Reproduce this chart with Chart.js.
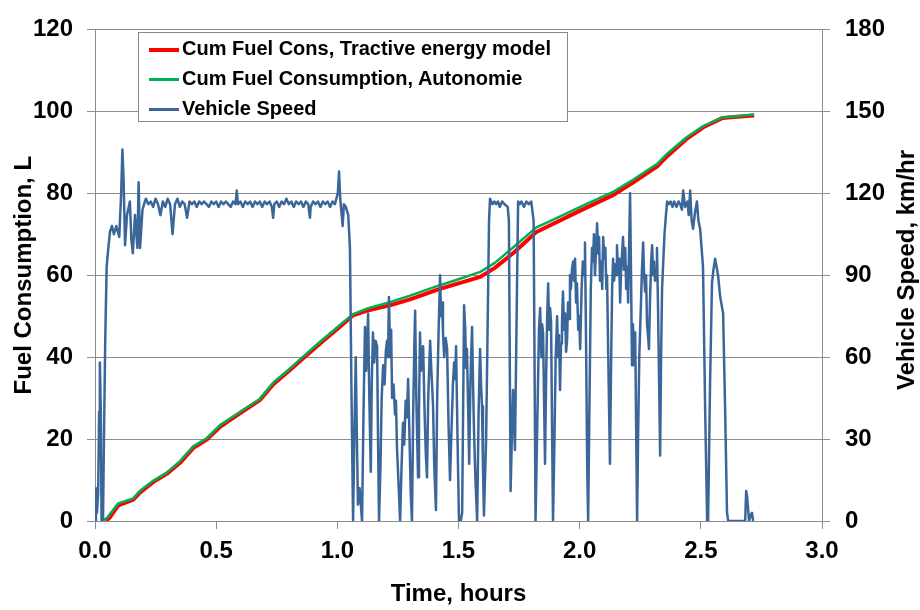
<!DOCTYPE html>
<html>
<head>
<meta charset="utf-8">
<script src="https://cdn.jsdelivr.net/npm/chart.js@4.4.1/dist/chart.umd.min.js"></script>
<style>
    body { margin: 0; background: #fff; font-family: "Liberation Sans", Arial, sans-serif; }
    #wrap { position: relative; width: 920px; height: 610px; }
    #legend {
        position: absolute; left: 138px; top: 32px; width: 430px; height: 90px;
        border: 1px solid #888; background: #fff; box-sizing: border-box;
    }
    .row { position: absolute; left: 10px; height: 30px; line-height: 30px; font-weight: bold; font-size: 20px; color: #000; white-space: nowrap; }
    .row span.swatch { display: inline-block; width: 30px; vertical-align: middle; margin-right: 3px; }
    #speedTitle {
        position: absolute; left: 906px; top: 270px; transform: translate(-50%, -50%) rotate(-90deg);
        font-weight: bold; font-size: 24px; white-space: nowrap; color: #000;
    }
</style>
</head>
<body>
<div id="wrap">
    <canvas id="fuelChart" width="920" height="610"></canvas>
    <div id="legend"></div>
    <div id="speedTitle">Vehicle Speed, km/hr</div>
</div>
<script>
// Cumulative fuel consumption, Autonomie (hours, litres)
const greenTime = [0.03, 0.05, 0.096, 0.158, 0.186, 0.24, 0.296, 0.351, 0.405, 0.461, 0.516, 0.598, 0.68, 0.736, 0.80, 0.86, 0.93, 1.00, 1.065, 1.12, 1.22, 1.30, 1.42, 1.50, 1.59, 1.65, 1.73, 1.82, 1.90, 2.00, 2.14, 2.22, 2.32, 2.36, 2.44, 2.51, 2.59, 2.65, 2.72];
const greenFuel = [0, 0.8, 4.3, 5.5, 7.4, 9.8, 11.8, 14.6, 18.2, 20.2, 23.4, 26.6, 29.8, 33.8, 37, 40.2, 43.8, 47.3, 50.5, 51.8, 53.5, 55, 57.5, 59, 60.8, 63, 67, 71.6, 73.8, 76.6, 80.4, 83.3, 87.2, 89.6, 93.6, 96.4, 98.5, 98.8, 99.2];

// Cumulative fuel consumption, tractive energy model
const redTime = [0.045, 0.06, 0.096, 0.158, 0.186, 0.24, 0.296, 0.351, 0.405, 0.461, 0.516, 0.598, 0.68, 0.736, 0.80, 0.86, 0.93, 1.00, 1.065, 1.12, 1.22, 1.30, 1.42, 1.50, 1.59, 1.65, 1.73, 1.82, 1.90, 2.00, 2.14, 2.22, 2.32, 2.36, 2.44, 2.51, 2.59, 2.65, 2.72];
const redFuel = [0, 0.8, 3.8, 5.2, 7.0, 9.5, 11.5, 14.2, 17.8, 19.9, 23.0, 26.3, 29.5, 33.4, 36.6, 39.8, 43.4, 46.9, 50.2, 51.3, 52.7, 54.1, 56.6, 58.0, 59.6, 61.8, 65.6, 70.5, 72.8, 75.7, 79.6, 82.6, 86.6, 89.0, 93.2, 96.1, 98.4, 98.7, 99.0];

const speedStart = [[0.000, 0], [0.004, 12], [0.008, 3], [0.013, 10], [0.017, 40], [0.020, 58], [0.024, 40], [0.027, 0], [0.033, 0], [0.037, 30],
    [0.042, 65], [0.048, 93], [0.055, 100], [0.062, 106], [0.070, 108], [0.078, 105], [0.088, 108], [0.100, 104], [0.108, 120], [0.113, 136],
    [0.118, 125], [0.124, 101], [0.132, 112], [0.144, 117], [0.150, 103], [0.156, 98], [0.165, 112], [0.175, 100], [0.180, 124], [0.186, 100],
    [0.196, 114], [0.206, 117]];
const speedCruise1 = [[0.21, 118], [0.22, 116], [0.23, 117], [0.24, 115], [0.25, 118], [0.26, 116], [0.27, 112], [0.28, 117], [0.29, 115],
    [0.30, 118], [0.31, 116], [0.32, 105], [0.33, 116], [0.34, 118], [0.35, 115], [0.36, 117], [0.37, 116], [0.38, 111], [0.39, 117], [0.40, 116],
    [0.41, 117], [0.42, 115], [0.43, 117], [0.44, 116], [0.45, 117], [0.46, 116], [0.47, 115], [0.48, 117], [0.49, 116], [0.50, 117], [0.51, 115],
    [0.52, 117], [0.53, 116], [0.54, 117], [0.55, 116], [0.56, 115], [0.57, 117], [0.58, 116], [0.585, 121], [0.59, 116], [0.60, 117], [0.61, 115],
    [0.62, 117], [0.63, 116], [0.64, 117], [0.65, 115], [0.66, 117], [0.67, 116], [0.68, 117], [0.69, 115], [0.70, 117], [0.71, 116], [0.72, 117],
    [0.73, 115], [0.735, 111], [0.74, 116], [0.75, 117], [0.76, 115], [0.77, 117], [0.78, 116], [0.79, 118], [0.80, 116], [0.81, 117], [0.82, 115],
    [0.83, 117], [0.84, 116], [0.85, 117], [0.86, 115], [0.87, 117], [0.88, 116], [0.887, 111], [0.89, 115], [0.90, 117], [0.91, 116], [0.92, 117],
    [0.93, 115], [0.94, 117], [0.95, 116], [0.96, 117], [0.97, 115], [0.98, 117], [0.99, 116], [1.002, 120], [1.007, 128], [1.012, 118],
    [1.018, 112], [1.022, 108], [1.027, 116], [1.035, 115], [1.045, 112], [1.052, 100], [1.058, 50], [1.065, 0]];
const speedCity1 = [[1.070, 30], [1.076, 60], [1.080, 35], [1.085, 6], [1.092, 12], [1.102, 0], [1.108, 40], [1.114, 71], [1.119, 55], [1.124, 68],
    [1.127, 76], [1.132, 45], [1.138, 18], [1.142, 50], [1.147, 69], [1.152, 58], [1.158, 66], [1.164, 64], [1.168, 30], [1.172, 0], [1.178, 20],
    [1.183, 45], [1.189, 57], [1.195, 50], [1.200, 62], [1.205, 66], [1.209, 60], [1.213, 82], [1.218, 60], [1.222, 70], [1.226, 45], [1.232, 50],
    [1.238, 39], [1.242, 44], [1.246, 27], [1.252, 15], [1.259, 0], [1.265, 20], [1.271, 36], [1.276, 28], [1.282, 44], [1.287, 38], [1.292, 52],
    [1.298, 30], [1.303, 10], [1.308, 0], [1.313, 40], [1.318, 65], [1.321, 77], [1.326, 45], [1.333, 16], [1.337, 40], [1.341, 69], [1.346, 55],
    [1.350, 62], [1.354, 64], [1.360, 40], [1.365, 25], [1.370, 16], [1.375, 45], [1.380, 58], [1.383, 66], [1.388, 55], [1.392, 48], [1.395, 42],
    [1.400, 20], [1.407, 4], [1.412, 45], [1.418, 70], [1.424, 90], [1.428, 75], [1.432, 80], [1.436, 69], [1.441, 60], [1.447, 67], [1.453, 63],
    [1.459, 35], [1.465, 15], [1.470, 30], [1.477, 50], [1.482, 58], [1.486, 52], [1.490, 64], [1.496, 30], [1.502, 0], [1.509, 0], [1.515, 3],
    [1.519, 40], [1.523, 79], [1.528, 70], [1.531, 56], [1.535, 63], [1.540, 40], [1.544, 21], [1.549, 50], [1.552, 60], [1.556, 71], [1.560, 50],
    [1.564, 33], [1.570, 15], [1.577, 0], [1.583, 40], [1.589, 63], [1.593, 50], [1.597, 42], [1.601, 20], [1.605, 2], [1.614, 30], [1.626, 110]];
const speedBursts = [[1.630, 118], [1.640, 116], [1.648, 117], [1.655, 116], [1.663, 117], [1.670, 115], [1.680, 117], [1.690, 116], [1.703, 115],
    [1.708, 110], [1.715, 11], [1.720, 30], [1.725, 48], [1.733, 26], [1.742, 90], [1.746, 117], [1.753, 116], [1.760, 117], [1.770, 115],
    [1.780, 117], [1.790, 116], [1.800, 117], [1.810, 110], [1.818, 0]];
const speedCity2 = [[1.826, 40], [1.832, 70], [1.837, 78], [1.842, 60], [1.845, 72], [1.849, 69], [1.853, 45], [1.857, 21], [1.862, 55], [1.866, 75],
    [1.870, 87], [1.874, 70], [1.878, 78], [1.882, 73], [1.886, 35], [1.890, 0], [1.896, 30], [1.901, 60], [1.907, 75], [1.911, 60], [1.915, 68],
    [1.919, 48], [1.923, 65], [1.927, 72], [1.931, 84], [1.936, 70], [1.940, 76], [1.944, 62], [1.948, 66], [1.952, 80], [1.956, 74], [1.960, 90],
    [1.964, 85], [1.968, 92], [1.973, 95], [1.977, 88], [1.981, 96], [1.985, 80], [1.989, 87], [1.994, 70], [1.998, 75], [2.002, 63], [2.008, 85],
    [2.013, 95], [2.018, 90], [2.022, 102], [2.027, 60], [2.031, 20], [2.035, 0], [2.040, 40], [2.046, 85], [2.051, 100], [2.055, 95], [2.059, 105],
    [2.063, 90], [2.068, 100], [2.072, 109], [2.076, 98], [2.080, 104], [2.084, 88], [2.088, 95], [2.093, 85], [2.097, 104], [2.102, 96],
    [2.106, 100], [2.110, 85], [2.113, 90], [2.118, 60], [2.125, 21], [2.130, 60], [2.134, 85], [2.138, 96], [2.142, 88], [2.146, 94], [2.150, 90],
    [2.154, 101], [2.158, 92], [2.163, 96], [2.167, 80], [2.171, 92], [2.175, 98], [2.179, 104], [2.183, 92], [2.188, 100], [2.192, 85],
    [2.196, 93], [2.200, 80], [2.204, 100], [2.208, 120], [2.212, 90], [2.216, 57], [2.220, 72], [2.225, 60], [2.229, 69], [2.233, 35], [2.237, 0],
    [2.241, 30], [2.246, 60], [2.253, 80], [2.257, 92], [2.262, 102], [2.266, 90], [2.270, 84], [2.274, 90], [2.278, 72], [2.282, 68], [2.286, 63],
    [2.290, 80], [2.295, 95], [2.299, 101], [2.303, 90], [2.307, 95], [2.311, 88], [2.315, 92], [2.319, 100], [2.323, 80], [2.328, 50], [2.332, 24],
    [2.336, 60], [2.340, 85], [2.344, 93], [2.350, 105], [2.356, 112]];
const speedEnd = [[2.361, 117], [2.368, 116], [2.375, 117], [2.383, 115], [2.390, 117], [2.400, 115], [2.408, 117], [2.415, 116], [2.422, 114],
    [2.427, 121], [2.435, 115], [2.445, 117], [2.450, 112], [2.456, 121], [2.462, 110], [2.468, 107], [2.476, 113], [2.484, 117], [2.490, 110],
    [2.497, 107], [2.503, 100], [2.509, 93], [2.518, 40], [2.526, 0], [2.530, 0], [2.538, 50], [2.546, 87], [2.552, 92], [2.559, 96], [2.565, 93],
    [2.571, 90], [2.580, 82], [2.588, 78], [2.592, 76], [2.600, 42], [2.608, 3], [2.613, 0], [2.683, 0], [2.687, 11], [2.691, 9], [2.699, 0],
    [2.705, 2], [2.711, 3], [2.716, 0]];

const xTicks = [0, 0.5, 1.0, 1.5, 2.0, 2.5, 3.0];
const seriesNames = ['Cum Fuel Cons, Tractive energy model', 'Cum Fuel Consumption, Autonomie', 'Vehicle Speed'];
const seriesColors = ['#ff0000', '#00b050', '#3b6699'];

function toPoints(xs, ys) {
    return xs.map((x, i) => ({ x: x, y: ys[i] }));
}

const speedPoints = [speedStart, speedCruise1, speedCity1, speedBursts, speedCity2, speedEnd]
    .flat()
    .map(p => ({ x: p[0], y: p[1] }));

const tickFont = { family: 'Liberation Sans', size: 24, weight: 'bold' };
const gridColor = '#8c8c8c';

// HTML legend inside the plot
const legendDiv = document.getElementById('legend');
const swatchHeights = [4, 3, 3];
seriesNames.forEach((name, i) => {
    const row = document.createElement('div');
    row.className = 'row';
    row.style.top = (i * 30) + 'px';
    row.innerHTML = `<span class="swatch" style="height:${swatchHeights[i]}px;background:${seriesColors[i]}"></span>${name}`;
    legendDiv.appendChild(row);
});

const ctx = document.getElementById('fuelChart').getContext('2d');
new Chart(ctx, {
    type: 'line',
    data: {
        datasets: [
            {
                label: seriesNames[2],
                data: speedPoints,
                yAxisID: 'y1',
                borderColor: seriesColors[2],
                borderWidth: 2.5,
                order: 1
            },
            {
                label: seriesNames[1],
                data: toPoints(greenTime, greenFuel),
                yAxisID: 'y',
                borderColor: seriesColors[1],
                borderWidth: 2.5,
                order: 2
            },
            {
                label: seriesNames[0],
                data: toPoints(redTime, redFuel),
                yAxisID: 'y',
                borderColor: seriesColors[0],
                borderWidth: 4,
                order: 3
            }
        ]
    },
    options: {
        responsive: false,
        animation: false,
        elements: { point: { radius: 0 }, line: { tension: 0, borderJoinStyle: 'round' } },
        layout: { padding: { top: 20, left: 0, right: 0, bottom: 0 } },
        plugins: { legend: { display: false }, tooltip: { enabled: false } },
        scales: {
            x: {
                type: 'linear',
                min: 0,
                max: 3,
                afterBuildTicks: s => { s.ticks = xTicks.map(v => ({ value: v })); },
                afterFit: s => { s.height = 89; },
                ticks: { font: tickFont, color: '#000', padding: 8, callback: v => v.toFixed(1), maxRotation: 0 },
                grid: { drawOnChartArea: false, tickLength: 8, color: gridColor },
                border: { color: gridColor },
                title: { display: true, text: 'Time, hours', font: tickFont, color: '#000', padding: { top: 0, bottom: 1 } }
            },
            y: {
                position: 'left',
                min: 0,
                max: 120,
                afterFit: s => { s.width = 95; },
                ticks: { stepSize: 20, font: tickFont, color: '#000', padding: 14 },
                grid: { tickLength: 8, color: gridColor },
                border: { color: gridColor },
                title: { display: true, text: 'Fuel Consumption, L', font: tickFont, color: '#000', padding: { top: 10, bottom: 0 } }
            },
            y1: {
                position: 'right',
                min: 0,
                max: 180,
                afterFit: s => { s.width = 98; },
                ticks: { stepSize: 30, font: tickFont, color: '#000', padding: 15 },
                grid: { drawOnChartArea: false, tickLength: 8, color: gridColor },
                border: { color: gridColor }
            }
        }
    }
});
</script>
</body>
</html>
